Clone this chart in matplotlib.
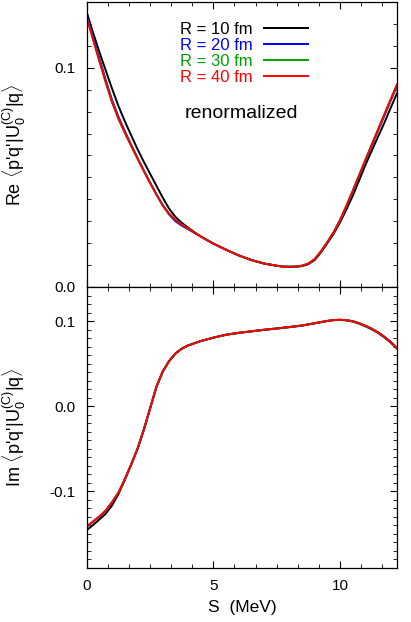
import numpy as np
import matplotlib
matplotlib.use('Agg')
import matplotlib.pyplot as plt
from matplotlib.ticker import MultipleLocator, FormatStrFormatter

plt.rcParams['font.family'] = ['Liberation Sans', 'DejaVu Sans']
plt.rcParams['mathtext.fontset'] = 'custom'
plt.rcParams['mathtext.rm'] = 'Liberation Sans'
plt.rcParams['mathtext.it'] = 'Liberation Sans'
plt.rcParams['axes.unicode_minus'] = False

# energy grid for the real part (MeV)
S_re = [0.0, 0.25, 0.5, 0.75, 1.0, 1.25, 1.5, 1.75, 2.0, 2.25, 2.5, 2.75, 3.0, 3.25, 3.5,
        3.75, 4.0, 4.25, 4.5, 4.75, 5.0,
        5.5, 6.0, 6.5, 7.0, 7.5,
        7.75, 8.0, 8.25, 8.5, 8.75, 9.0, 9.25, 9.5, 9.75, 10.0, 10.25, 10.5, 10.75, 11.0,
        11.25, 11.5, 11.75, 12.0, 12.25]

# real part, one list per cutoff radius
re_10 = [0.1254, 0.1160, 0.1072, 0.0988, 0.0905, 0.0826, 0.0757, 0.0693, 0.0630, 0.0572,
         0.0517, 0.0462, 0.0408, 0.0358, 0.0320, 0.0293, 0.0271, 0.0250, 0.0231, 0.0214,
         0.0198,
         0.0170, 0.0144, 0.0123, 0.0107, 0.0097,
         0.0093, 0.0092, 0.0092, 0.0095, 0.0104, 0.0123, 0.0158, 0.0200, 0.0243, 0.0295,
         0.0353, 0.0415, 0.0485, 0.0556, 0.0621, 0.0685, 0.0749, 0.0817, 0.0884]
re_20 = [0.1244, 0.1142, 0.1043, 0.0945, 0.0853, 0.0777, 0.0712, 0.0650, 0.0590, 0.0533,
         0.0477, 0.0423, 0.0372, 0.0331, 0.0300, 0.0280, 0.0264, 0.0247, 0.0230, 0.0214,
         0.0198,
         0.0170, 0.0144, 0.0123, 0.0107, 0.0097,
         0.0093, 0.0092, 0.0093, 0.0097, 0.0106, 0.0126, 0.0162, 0.0204, 0.0249, 0.0303,
         0.0367, 0.0435, 0.0505, 0.0575, 0.0644, 0.0713, 0.0781, 0.0850, 0.0918]
re_30 = [0.1232, 0.1131, 0.1033, 0.0936, 0.0845, 0.0768, 0.0705, 0.0645, 0.0587, 0.0530,
         0.0475, 0.0422, 0.0373, 0.0335, 0.0306, 0.0285, 0.0267, 0.0248, 0.0231, 0.0214,
         0.0198,
         0.0170, 0.0144, 0.0123, 0.0107, 0.0097,
         0.0093, 0.0092, 0.0093, 0.0097, 0.0107, 0.0127, 0.0163, 0.0205, 0.0250, 0.0305,
         0.0370, 0.0438, 0.0509, 0.0579, 0.0649, 0.0718, 0.0787, 0.0855, 0.0923]
re_40 = [0.1229, 0.1128, 0.1030, 0.0933, 0.0843, 0.0768, 0.0705, 0.0645, 0.0587, 0.0530,
         0.0475, 0.0422, 0.0373, 0.0335, 0.0306, 0.0285, 0.0267, 0.0248, 0.0231, 0.0214,
         0.0198,
         0.0170, 0.0144, 0.0123, 0.0107, 0.0097,
         0.0093, 0.0092, 0.0093, 0.0097, 0.0107, 0.0127, 0.0163, 0.0205, 0.0250, 0.0305,
         0.0370, 0.0438, 0.0509, 0.0579, 0.0649, 0.0718, 0.0787, 0.0856, 0.0924]

# energy grid for the imaginary part (MeV)
S_im = [0.0, 0.25, 0.5, 0.75, 1.0, 1.25, 1.5, 1.75, 2.0, 2.25, 2.5, 2.75, 3.0, 3.25, 3.5,
        3.75, 4.0, 4.5, 5.0, 5.5, 6.0, 6.5, 7.0, 7.5, 8.0, 8.5, 9.0, 9.5, 9.75, 10.0,
        10.25, 10.5, 10.75, 11.0, 11.25, 11.5, 11.75, 12.0, 12.25]

# imaginary part
im_10 = [-0.1455, -0.1395, -0.1330, -0.1262, -0.1165, -0.1035, -0.0868, -0.0690, -0.0505,
         -0.0279, -0.0028, 0.0226, 0.0407, 0.0529, 0.0618, 0.0675, 0.0713, 0.0765, 0.0805,
         0.0838, 0.0860, 0.0878, 0.0896, 0.0911, 0.0928, 0.0946, 0.0973, 0.1000, 0.1010,
         0.1013, 0.1008, 0.0994, 0.0970, 0.0939, 0.0903, 0.0861, 0.0808, 0.0748, 0.0676]
im_40 = [-0.1412, -0.1355, -0.1295, -0.1226, -0.1128, -0.1017, -0.0860, -0.0688, -0.0505,
         -0.0279, -0.0028, 0.0226, 0.0407, 0.0529, 0.0618, 0.0675, 0.0713, 0.0765, 0.0805,
         0.0840, 0.0862, 0.0880, 0.0898, 0.0913, 0.0930, 0.0948, 0.0975, 0.1002, 0.1012,
         0.1015, 0.1011, 0.0998, 0.0975, 0.0945, 0.0910, 0.0868, 0.0815, 0.0755, 0.0683]
im_20 = im_40
im_30 = im_40

labels = ['R = 10 fm', 'R = 20 fm', 'R = 30 fm', 'R = 40 fm']
colors = ['#000000', '#0000ff', '#00a000', '#ff0000']

fig = plt.figure(figsize=(4.11, 6.22), dpi=100)
ax1 = fig.add_axes([0.211, 0.5386, 0.755, 0.4582])
ax2 = fig.add_axes([0.211, 0.0868, 0.755, 0.4518])

for re, lab, c in zip([re_10, re_20, re_30, re_40], labels, colors):
    ax1.plot(S_re, re, color=c, lw=1.4, label=lab)
for im, c in zip([im_10, im_20, im_30, im_40], colors):
    ax2.plot(S_im, im, color=c, lw=1.4)

ax1.set_xlim(0, 12.25)
ax2.set_xlim(0, 12.25)
ax1.set_ylim(0, 0.13)
ax2.set_ylim(-0.19, 0.14)

for ax in (ax1, ax2):
    ax.xaxis.set_major_locator(MultipleLocator(5))
    ax.xaxis.set_minor_locator(MultipleLocator(5 / 6))
    ax.yaxis.set_major_locator(MultipleLocator(0.1))
    ax.yaxis.set_minor_locator(MultipleLocator(0.01))
    ax.yaxis.set_major_formatter(FormatStrFormatter('%.1f'))
    ax.tick_params(which='both', direction='in', top=True, right=True, labelsize=11, pad=8)
    ax.tick_params(which='major', length=5, width=0.8)
    ax.tick_params(which='minor', length=3, width=0.6)
    for sp in ax.spines.values():
        sp.set_linewidth(0.9)
ax1.tick_params(labelbottom=False)

ax1.set_ylabel(r"Re $\langle$p'q'|U$_0^{(C)}$|q$\rangle$", fontsize=13)
ax2.set_ylabel(r"Im $\langle$p'q'|U$_0^{(C)}$|q$\rangle$", fontsize=13)
ax1.yaxis.set_label_coords(-0.19, 0.5)
ax2.yaxis.set_label_coords(-0.19, 0.5)
ax2.set_xlabel('S  (MeV)', fontsize=12.5, labelpad=5)

ax1.text(0.5, 0.61, 'renormalized', transform=ax1.transAxes, fontsize=14, ha='center', va='center')

ax1.legend(loc='upper right', bbox_to_anchor=(0.75, 0.972), frameon=False, markerfirst=False,
           labelcolor='linecolor', fontsize=12, handlelength=2.6, handletextpad=0.7,
           labelspacing=0.06, borderpad=0.2)

fig.savefig('out.png', dpi=100)
